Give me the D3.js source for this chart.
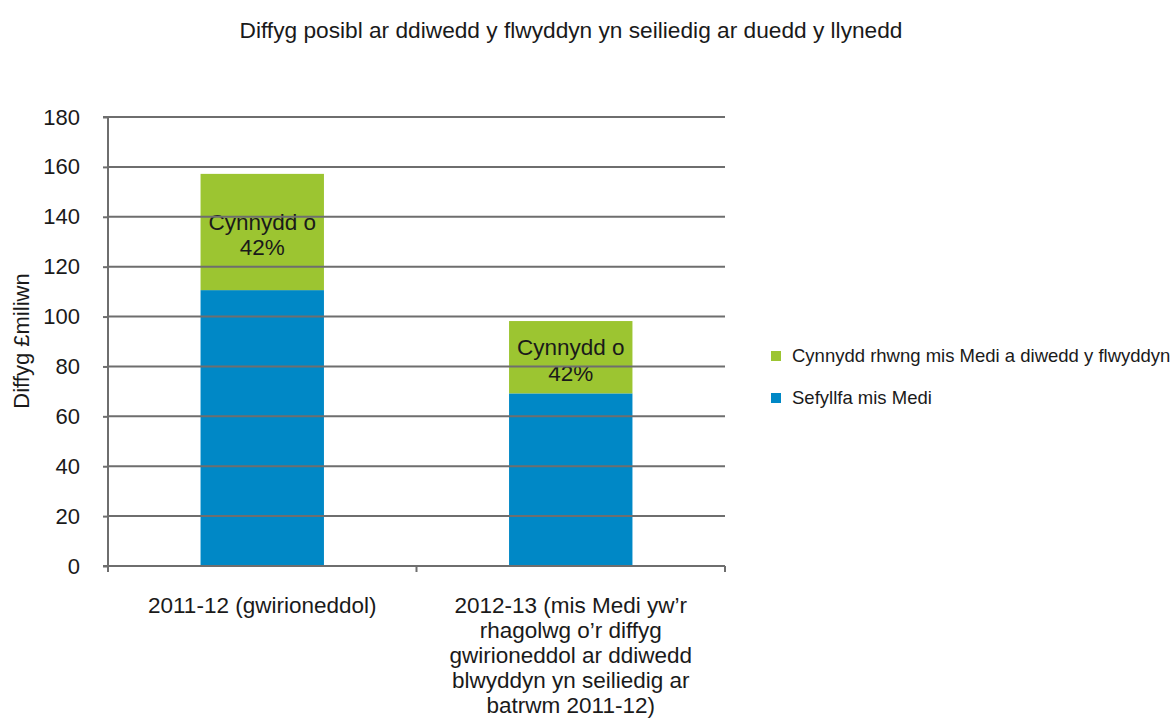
<!DOCTYPE html>
<html><head><meta charset="utf-8">
<script src="https://cdn.jsdelivr.net/npm/d3@7"></script>
<style>body{margin:0;background:#fff;} text{font-family:"Liberation Sans",Arial,sans-serif;fill:#1a1a1a;}</style>
</head><body><svg id="c" width="1173" height="722"></svg>
<script>
const categories = ["2011-12 (gwirioneddol)", "2012-13 (mis Medi yw’r rhagolwg o’r diffyg gwirioneddol ar ddiwedd blwyddyn yn seiliedig ar batrwm 2011-12)"];
const categoryLines = [["2011-12 (gwirioneddol)"], ["2012-13 (mis Medi yw’r","rhagolwg o’r diffyg","gwirioneddol ar ddiwedd","blwyddyn yn seiliedig ar","batrwm 2011-12)"]];
const septemberPosition = [110.6, 69.2];
const increaseToYearEnd = [46.6, 29.0];
const barLabels = [["Cynnydd o","42%"],["Cynnydd o","42%"]];
const seriesNames = ["Cynnydd rhwng mis Medi a diwedd y flwyddyn", "Sefyllfa mis Medi"];
const yTicks = [0,20,40,60,80,100,120,140,160,180];
const title = "Diffyg posibl ar ddiwedd y flwyddyn yn seiliedig ar duedd y llynedd";
const yTitle = "Diffyg £miliwn";

const svg = d3.select("#c");
const m = {l:108, r:725, t:117, b:566};
const x = d3.scaleBand().domain(categories).range([m.l, m.r]).paddingInner(0.6).paddingOuter(0.3);
const y = d3.scaleLinear().domain([0,180]).range([m.b, m.t]);
const colors = {inc:"#9cc531", sep:"#0088c6"};

svg.append("text").attr("x",571).attr("y",38).attr("text-anchor","middle").attr("font-size",22.7).text(title);

// bars
const g = svg.append("g");
categories.forEach((c,i)=>{
  g.append("rect").attr("x",x(c)).attr("width",x.bandwidth()).attr("y",y(septemberPosition[i])).attr("height",y(0)-y(septemberPosition[i])).attr("fill",colors.sep);
  const top = septemberPosition[i]+increaseToYearEnd[i];
  g.append("rect").attr("x",x(c)).attr("width",x.bandwidth()).attr("y",y(top)).attr("height",y(septemberPosition[i])-y(top)).attr("fill",colors.inc);
  const mid = (y(top)+y(septemberPosition[i]))/2;
  barLabels[i].forEach((t,k)=>{
    g.append("text").attr("x",x(c)+x.bandwidth()/2).attr("y",mid-2+k*25.5).attr("text-anchor","middle").attr("font-size",22.5).text(t);
  });
});

// gridlines over bars
svg.append("g").selectAll("line").data(yTicks.filter(d=>d>0)).join("line")
  .attr("x1",m.l).attr("x2",m.r).attr("y1",d=>y(d)).attr("y2",d=>y(d))
  .attr("stroke","#6e6e6e").attr("stroke-width",2);

// y axis
const ya = svg.append("g").attr("transform",`translate(${m.l},0)`).call(d3.axisLeft(y).tickValues(yTicks).tickSize(5).tickPadding(23));
ya.select(".domain").attr("stroke","#6e6e6e").attr("stroke-width",2).attr("d",`M-5,${y(180)}H0V${y(0)}`);
ya.selectAll(".tick line").attr("stroke","#6e6e6e").attr("stroke-width",2);
ya.selectAll(".tick text").attr("font-size",22).attr("font-family","Liberation Sans, Arial, sans-serif").attr("fill","#1a1a1a");

// x axis
const xa = svg.append("g").attr("transform",`translate(0,${m.b})`);
xa.append("line").attr("x1",m.l-5).attr("x2",m.r).attr("y1",0).attr("y2",0).attr("stroke","#6e6e6e").attr("stroke-width",2);
const bounds = [m.l, (x(categories[0])+x.bandwidth()+x(categories[1]))/2, m.r];
xa.selectAll("line.t").data(bounds).join("line").attr("class","t").attr("x1",d=>d).attr("x2",d=>d).attr("y1",0).attr("y2",6).attr("stroke","#6e6e6e").attr("stroke-width",2);
categories.forEach((c,i)=>{
  categoryLines[i].forEach((t,k)=>{
    xa.append("text").attr("x",x(c)+x.bandwidth()/2).attr("y",47+k*25).attr("text-anchor","middle").attr("font-size",22.5).text(t);
  });
});

// y title
svg.append("text").attr("transform","translate(29,341) rotate(-90)").attr("text-anchor","middle").attr("font-size",22).text(yTitle);

// legend
const leg = svg.append("g");
[[seriesNames[0],colors.inc,356],[seriesNames[1],colors.sep,398]].forEach(([n,c,yy])=>{
  leg.append("rect").attr("x",771).attr("y",yy-5).attr("width",10).attr("height",10).attr("fill",c);
  leg.append("text").attr("x",792).attr("y",yy+6).attr("font-size",18.5).text(n);
});
</script></body></html>
